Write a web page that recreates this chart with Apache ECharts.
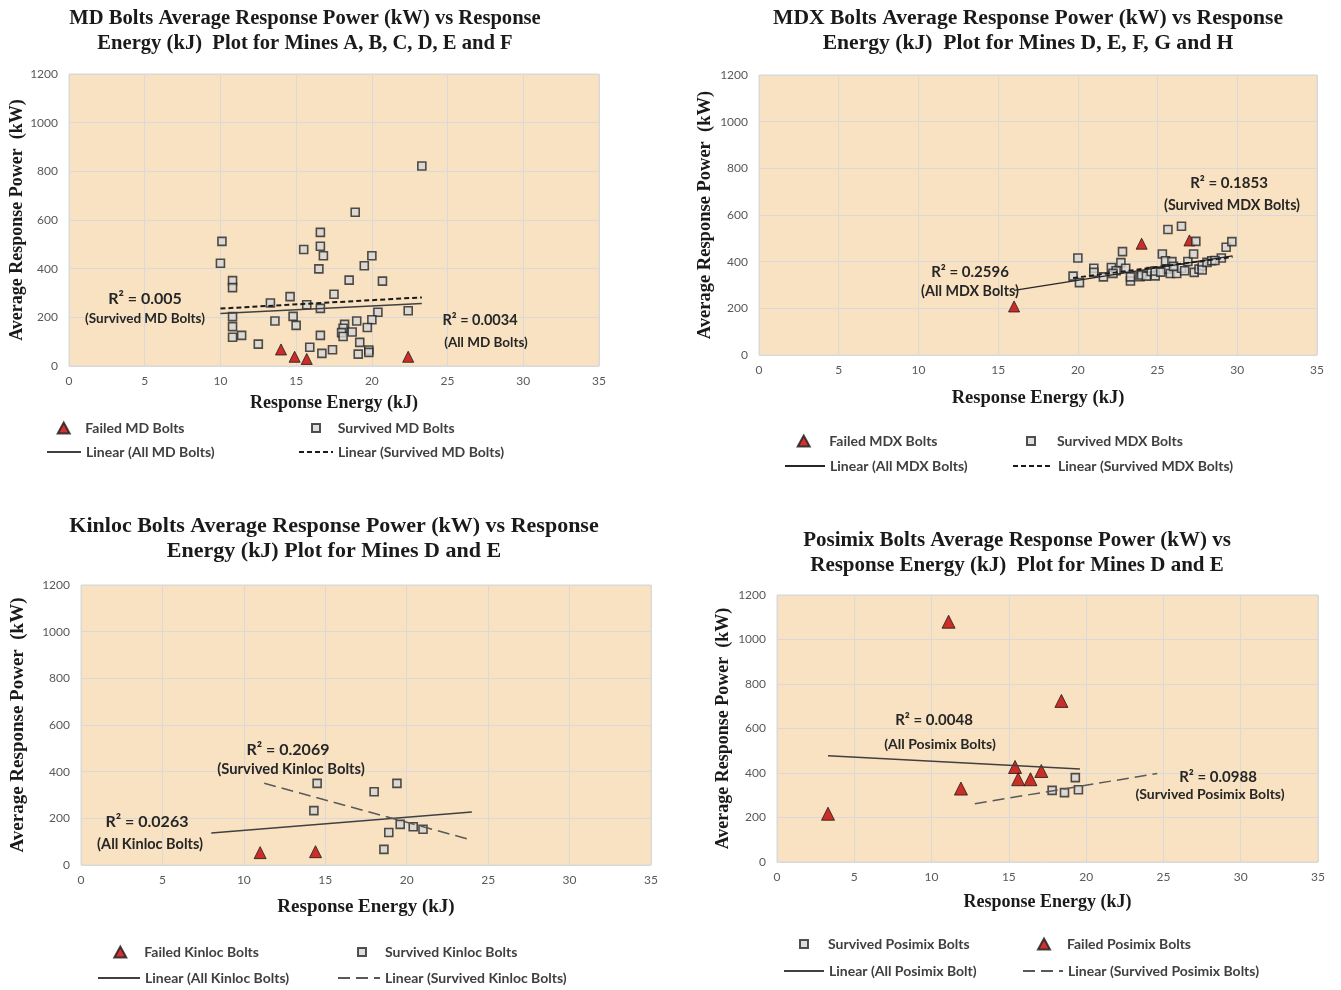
<!DOCTYPE html>
<html><head><meta charset="utf-8">
<script src="https://cdn.jsdelivr.net/npm/echarts@6/dist/echarts.min.js"></script>
<style>html,body{margin:0;padding:0;background:#fff}#c{width:1341px;height:990px}</style>
</head><body><div id="c"></div>
<script>
// ---------- DATA ----------
const mdFailed = [[14.0,68],[14.9,38],[15.7,29],[22.4,38]];
const mdSurvived = [[23.3,822],[18.9,632],[10.1,512],[10.0,422],[16.6,549],[15.5,479],[16.6,492],[16.8,453],[20.0,453],[19.5,412],[16.5,399],[18.5,353],[20.7,349],[10.8,351],[10.8,322],[17.5,295],[14.6,285],[13.3,259],[15.7,252],[16.6,237],[22.4,227],[20.4,221],[10.8,203],[14.8,204],[20.0,190],[19.0,185],[13.6,185],[15.0,167],[18.2,171],[10.8,162],[19.7,158],[18.1,155],[18.0,137],[18.7,140],[18.1,121],[10.8,118],[11.4,126],[16.6,126],[19.2,97],[12.5,90],[15.9,77],[17.4,67],[16.7,52],[19.1,49],[19.8,66],[19.8,56]];
const mdTrendAll = [[10,216],[23.3,257]];
const mdTrendSurvived = [[10,236],[23.3,282]];

const mdxFailed = [[16.0,208],[24.0,477],[27.0,491]];
const mdxSurvived = [[20.0,416],[19.7,338],[20.1,310],[21.0,372],[21.0,354],[21.6,335],[22.1,375],[22.4,361],[22.7,396],[22.8,443],[23.0,372],[23.3,317],[23.3,335],[23.9,336],[24.0,343],[24.3,338],[24.6,358],[24.85,339],[24.85,360],[25.3,433],[25.5,404],[25.6,368],[25.65,538],[25.8,349],[25.9,400],[26.2,349],[26.5,552],[26.5,372],[26.7,361],[26.9,401],[27.26,433],[27.3,354],[27.4,487],[27.6,368],[27.8,383],[27.8,364],[28.1,397],[28.4,404],[29.0,416],[29.3,462],[29.66,486],[22.2,350],[25.2,355],[26.0,380],[28.6,405]];
const mdxTrendAll = [[16,277],[29.7,425]];
const mdxTrendSurvived = [[19.7,330],[29.7,420]];

const kinFailed = [[11.0,53],[14.4,57]];
const kinSurvived = [[14.5,350],[19.4,350],[18.0,314],[14.3,233],[19.6,174],[20.4,164],[21.0,153],[18.9,139],[18.6,67]];
const kinTrendAll = [[8.0,137],[24.0,227]];
const kinTrendSurvived = [[11.25,350],[24.0,107]];

const posFailed = [[11.1,1080],[18.4,724],[3.3,217],[11.9,330],[15.4,427],[15.6,372],[16.4,372],[17.1,409]];
const posSurvived = [[19.3,379],[17.8,322],[18.6,312],[19.5,325]];
const posTrendAll = [[3.3,477],[19.6,418]];
const posTrendSurvived = [[12.8,262],[24.6,398]];

const xTickStep = 5, xMax = 35, yTickStep = 200, yMax = 1200;

// ---------- STYLE / LAYOUT ----------
const BG = '#F9E2C1', GRID = '#D9D9D9';
const serif = 'Liberation Serif';
const sans = 'Lato';
const grids = [
  {left:69, top:74, width:530, height:292},
  {left:759, top:75, width:558, height:280},
  {left:81, top:585, width:570, height:280},
  {left:777, top:595, width:541, height:267}
];
const xNameGap = [28, 34, 33, 31];
const yNameGap = [42, 44, 53, 45];
const nameSize = [18, 18.5, 19, 18];

function xAxis(i){ return {gridIndex:i, type:'value', min:0, max:xMax, interval:xTickStep,
  name:'Response Energy (kJ)', nameLocation:'middle', nameGap:xNameGap[i],
  nameTextStyle:{fontFamily:serif, fontWeight:'bold', fontSize:nameSize[i], color:'#1a1a1a'},
  axisLine:{show:false}, axisTick:{show:false},
  axisLabel:{color:'#595959', fontFamily:sans, fontSize:12, margin:9, formatter:v => String(v)},
  splitLine:{lineStyle:{color:GRID, width:1}}}; }
function yAxis(i){ return {gridIndex:i, type:'value', min:0, max:yMax, interval:yTickStep,
  name:'Average Response Power  (kW)', nameLocation:'middle', nameGap:yNameGap[i],
  nameTextStyle:{fontFamily:serif, fontWeight:'bold', fontSize:nameSize[i], color:'#1a1a1a'},
  axisLine:{show:false}, axisTick:{show:false},
  axisLabel:{color:'#595959', fontFamily:sans, fontSize:12, margin:11, formatter:v => String(v)},
  splitLine:{lineStyle:{color:GRID, width:1}}}; }

function failed(name, data, i, size){ return {name, type:'scatter', data, xAxisIndex:i, yAxisIndex:i,
  symbol:'triangle', symbolSize:size||11, itemStyle:{color:'#C00000', borderColor:'#1a1a1a', borderWidth:1}, z:3}; }
function survived(name, data, i){ return {name, type:'scatter', data, xAxisIndex:i, yAxisIndex:i,
  symbol:'rect', symbolSize:8, itemStyle:{color:'#D6D6D6', borderColor:'#262626', borderWidth:1.6}, z:3}; }
function trend(name, data, i, lt, color, width){ return {name, type:'line', data, xAxisIndex:i, yAxisIndex:i,
  symbol:'none', silent:true, lineStyle:{type:lt, color, width}, itemStyle:{color}, z:4}; }

const series = [
  failed('Failed MD Bolts', mdFailed, 0),
  survived('Survived MD Bolts', mdSurvived, 0),
  trend('Linear (All MD Bolts)', mdTrendAll, 0, 'solid', '#404040', 1.5),
  trend('Linear (Survived MD Bolts)', mdTrendSurvived, 0, [5,3], '#1a1a1a', 2),
  failed('Failed MDX Bolts', mdxFailed, 1),
  survived('Survived MDX Bolts', mdxSurvived, 1),
  trend('Linear (All MDX Bolts)', mdxTrendAll, 1, 'solid', '#262626', 1.3),
  trend('Linear (Survived MDX Bolts)', mdxTrendSurvived, 1, [5,3], '#1a1a1a', 1.8),
  failed('Failed Kinloc Bolts', kinFailed, 2, 12),
  survived('Survived Kinloc Bolts', kinSurvived, 2),
  trend('Linear (All Kinloc Bolts)', kinTrendAll, 2, 'solid', '#404040', 1.5),
  trend('Linear (Survived Kinloc Bolts)', kinTrendSurvived, 2, [12,6], '#595959', 1.5),
  survived('Survived Posimix Bolts', posSurvived, 3),
  failed('Failed Posimix Bolts', posFailed, 3, 13),
  trend('Linear (All Posimix Bolt)', posTrendAll, 3, 'solid', '#404040', 1.5),
  trend('Linear (Survived Posimix Bolts)', posTrendSurvived, 3, [12,6], '#595959', 1.5)
];

// symbol legend entries: [name, iconCenterX, centerY, textStartX, w, h]
const symbolLegends = [
  ['Failed MD Bolts', 62.7, 429, 84.3, 12, 11], ['Survived MD Bolts', 315, 429, 336.7, 8, 8],
  ['Failed MDX Bolts', 802.7, 442, 828.3, 12, 11], ['Survived MDX Bolts', 1030, 442, 1056, 8, 8],
  ['Failed Kinloc Bolts', 119.3, 953, 143.3, 12, 11], ['Survived Kinloc Bolts', 361, 953, 384, 8, 8],
  ['Survived Posimix Bolts', 803, 945, 827, 8, 8], ['Failed Posimix Bolts', 1043, 945, 1066, 12, 11]
];
// line legend entries: [name, left, centerY, width]
const lineLegends = [
  ['Linear (All MD Bolts)', 46, 453, 34], ['Linear (Survived MD Bolts)', 298, 453, 34],
  ['Linear (All MDX Bolts)', 784, 467, 40], ['Linear (Survived MDX Bolts)', 1012, 467, 40],
  ['Linear (All Kinloc Bolts)', 97, 979, 42], ['Linear (Survived Kinloc Bolts)', 337, 979, 42],
  ['Linear (All Posimix Bolt)', 783, 972, 40], ['Linear (Survived Posimix Bolts)', 1022, 972, 40]
];
const legendText = {fontFamily:sans, fontWeight:'bold', fontSize:14, color:'#404040'};
const legends = symbolLegends.map(p => {
  const left = p[1] - p[4]/2;
  return {data:[p[0]], left, top:p[2]-8, itemWidth:p[4], itemHeight:p[5], padding:0, selectedMode:false,
    textStyle:Object.assign({padding:[0,0,0,Math.max(0, p[3]-5-(left+p[4]))]}, legendText)};
}).concat(lineLegends.map(p => ({
  data:[p[0]], left:p[1], top:p[2]-8, itemWidth:p[3], itemHeight:12, padding:0, selectedMode:false,
  itemStyle:{opacity:0}, textStyle:Object.assign({}, legendText)
})));

function txt(t, x, y, size, fam, color, lh){ return {type:'text', x, y, silent:true, z:100,
  style:{text:t, fill:color||'#262626', font:'bold '+size+'px "'+(fam||sans)+'"', textAlign:'center', textVerticalAlign:'middle', lineHeight:lh||size+4}}; }

const graphics = [
  txt('MD Bolts Average Response Power (kW) vs Response\nEnergy (kJ)  Plot for Mines A, B, C, D, E and F', 305, 31, 20.6, serif, '#1a1a1a', 25),
  txt('MDX Bolts Average Response Power (kW) vs Response\nEnergy (kJ)  Plot for Mines D, E, F, G and H', 1028, 31, 21.6, serif, '#1a1a1a', 25),
  txt('Kinloc Bolts Average Response Power (kW) vs Response\nEnergy (kJ) Plot for Mines D and E', 334, 539, 22, serif, '#1a1a1a', 25),
  txt('Posimix Bolts Average Response Power (kW) vs\nResponse Energy (kJ)  Plot for Mines D and E', 1017, 553, 21, serif, '#1a1a1a', 25),
  txt('R² = 0.005', 145, 299, 16), txt('(Survived MD Bolts)', 145, 319, 13.5),
  txt('R² = 0.0034', 480, 320, 14.5), txt('(All MD Bolts)', 486, 343, 13.5),
  txt('R² = 0.2596', 970, 272, 15), txt('(All MDX Bolts)', 970, 291, 14.3),
  txt('R² = 0.1853', 1229, 183, 15), txt('(Survived MDX Bolts)', 1232, 205, 14.3),
  txt('R² = 0.2069', 288, 750, 16), txt('(Survived Kinloc Bolts)', 291, 769, 14.8),
  txt('R² = 0.0263', 147, 822, 16), txt('(All Kinloc Bolts)', 150, 844, 14.5),
  txt('R² = 0.0048', 934, 720, 15), txt('(All Posimix Bolts)', 940, 744, 14),
  txt('R² = 0.0988', 1218, 777, 15), txt('(Survived Posimix Bolts)', 1210, 794, 14)
];

const chart = echarts.init(document.getElementById('c'), null, {renderer:'canvas'});
chart.setOption({
  animation:false,
  backgroundColor:'#ffffff',
  grid: grids.map(g => Object.assign({show:true, backgroundColor:BG, borderColor:GRID, borderWidth:1, containLabel:false}, g)),
  xAxis: [0,1,2,3].map(xAxis),
  yAxis: [0,1,2,3].map(yAxis),
  legend: legends,
  series,
  graphic: graphics
});
</script></body></html>
